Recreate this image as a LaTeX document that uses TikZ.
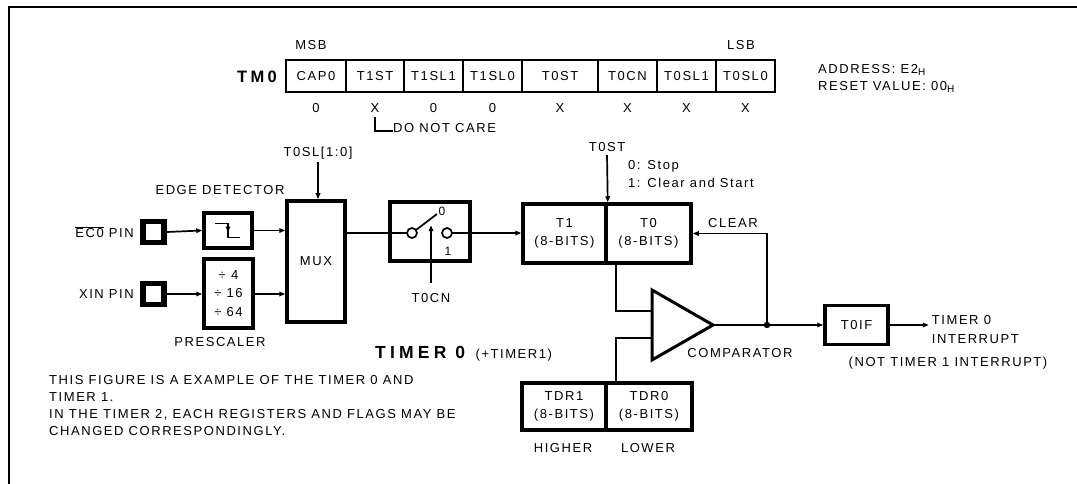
\documentclass[tikz,border=0pt]{standalone}
\usepackage{fontspec}
\setmainfont{Liberation Sans}[LetterSpace=12]
\usetikzlibrary{arrows.meta}

\newcommand{\lblfont}{\fontsize{13}{17}\selectfont}
\newcommand{\smlfont}{\fontsize{12}{14}\selectfont}
\newcommand{\bigfont}{\fontsize{16.5}{18}\selectfont\bfseries\addfontfeatures{LetterSpace=20}}
\newcommand{\hugefont}{\fontsize{17.5}{20}\selectfont\bfseries\addfontfeatures{LetterSpace=24}}
\newcommand{\hsub}[1]{\raisebox{-2pt}{\fontsize{10}{10}\selectfont #1}}

\tikzset{
  box/.style={draw, line width=3.5pt, inner sep=0pt, align=center, font=\lblfont},
  cell/.style={draw, line width=2pt, inner sep=0pt, minimum height=32pt, font=\lblfont},
  pin/.style={draw, line width=5.5pt, minimum size=21pt, inner sep=0pt},
  lbl/.style={inner sep=0pt, font=\lblfont, align=left},
  wire/.style={line width=1.7pt},
  sig/.style={wire, -{Triangle[length=6pt,width=4.5pt]}},
}

\begin{document}
\begin{tikzpicture}[x=1pt,y=-1pt]
  \useasboundingbox (0,0) rectangle (1077,484);
  % frame
  \draw[line width=2pt] (9,484) -- (9,7) -- (1077,7);

  % register TM0
  \foreach \l/\r/\t [count=\i] in {286/346/CAP0,346/404/T1ST,404/463/T1SL1,463/522/T1SL0,
      522/598/T0ST,598/657/T0CN,657/716/T0SL1,716/775/T0SL0}
    \node[cell, minimum width=\r pt-\l pt] (c\i) at ({(\l+\r)/2},76) {\t};
  \foreach \v [count=\i] in {0,X,0,0,X,X,X,X}
    \path (c\i.south) ++(0,15) node[lbl] (b\i) {\v};
  \node[lbl] (msb) at (311,45) {MSB};
  \node[lbl] (lsb) at (741,45) {LSB};
  \node[lbl, font=\bigfont, anchor=east] (tm0) at (277,77) {TM0};
  \node[lbl, anchor=west] (addr) at (818,70) {ADDRESS: E2\hsub{H}};
  \node[lbl, anchor=west] (rst) at (818,87) {RESET VALUE: 00\hsub{H}};
  \node[lbl, anchor=west] (dnc) at (393,128) {DO NOT CARE};
  \draw[line width=1.5pt] ([yshift=-4pt]b2.south) |- ([yshift=-3pt]dnc.west);

  % inputs
  \node[pin] (ecpin) at (153.5,232) {};
  \node[pin] (xinpin) at (153.5,294) {};
  \node[lbl, anchor=east] (eclbl) at (134,232) {$\overline{\mbox{EC0}}$ PIN};
  \node[lbl, anchor=east] (xinlbl) at (134,294) {XIN PIN};

  % edge detector and prescaler
  \node[box, minimum width=48pt, minimum height=35pt] (edge) at (228,230.5) {};
  \draw[wire] ([shift={(-13,-7)}]edge.center) -- ++(13,0) -- ++(0,14) -- ++(12,0);
  \draw[sig] ([shift={(0,-7)}]edge.center) -- ++(0,9);
  \node[lbl] (edgelbl) at (220,190) {EDGE DETECTOR};
  \node[box, minimum width=49pt, minimum height=69pt, font=\fontsize{13}{18.5}\selectfont] (presc) at (228.5,293.5) {÷ 4\\÷ 16\\÷ 64};
  \node[lbl] (presclbl) at (220,342) {PRESCALER};
  \draw[sig] (ecpin.east) -- (edge.west);
  \draw[sig] (xinpin.east) -- (xinpin.east -| presc.west);

  % mux
  \node[box, minimum width=58pt, minimum height=121pt] (mux) at (316,261.5) {MUX};
  \node[lbl] (sellbl) at (318,153) {T0SL[1:0]};
  \draw[sig] (sellbl.south) ++(0,3) -- (sellbl.south |- mux.north);
  \draw[sig] (edge.east) -- (edge.east -| mux.west);
  \draw[sig] (xinpin.east -| presc.east) -- (xinpin.east -| mux.west);

  % switch
  \node[box, minimum width=80pt, minimum height=59pt] (sw) at (430,231.5) {};
  \coordinate (swa) at (412,233);
  \coordinate (swb) at (447,233);
  \draw[wire] (swa) circle[radius=5pt] (swb) circle[radius=5pt];
  \draw[wire] ([shift={(4,-3)}]swa) -- (437,214);
  \node[lbl, font=\smlfont] (sw0) at (442,211) {0};
  \node[lbl, font=\smlfont] (sw1) at (448,251) {1};
  \draw[wire] (mux.east |- swa) -- ([xshift=-5pt]swa);
  \node[lbl] (cnlbl) at (431,298) {T0CN};
  \draw[sig] ([yshift=10pt]cnlbl.north) -- ++(0,-58);

  % timer counter
  \node[box, minimum width=83pt, minimum height=59pt, font=\fontsize{13}{18}\selectfont] (t1) at (564.5,233.5) {T1\\(8-BITS)};
  \node[box, minimum width=85pt, minimum height=59pt, font=\fontsize{13}{18}\selectfont] (t0) at (648.5,233.5) {T0\\(8-BITS)};
  \draw[sig] ([xshift=5pt]swb) -- (swb -| t1.west);
  \node[lbl] (stlbl) at (607,147) {T0ST};
  \draw[sig] (stlbl.south) ++(0,3) -- (t1.north east);
  \node[lbl, anchor=west] (mode0) at (628,166) {0: Stop};
  \node[lbl, anchor=west] (mode1) at (628,183) {1: Clear and Start};
  \node[lbl] (clr) at (733,223) {CLEAR};

  % comparator
  \draw[line width=3pt] (652,290) -- (713,325) -- (652,360) -- cycle;
  \coordinate (cmpin1) at (652,311);
  \coordinate (cmpin2) at (652,338);
  \coordinate (cmpout) at (713,325);
  \coordinate (jn) at (767,325);
  \node[lbl] (cmplbl) at (740,353) {COMPARATOR};
  \node[box, minimum width=84pt, minimum height=47pt, font=\fontsize{13}{18}\selectfont] (tdr1) at (564,406.5) {TDR1\\(8-BITS)};
  \node[box, minimum width=86pt, minimum height=47pt, font=\fontsize{13}{18}\selectfont] (tdr0) at (649,406.5) {TDR0\\(8-BITS)};
  \node[lbl] (hilbl) at (563,448) {HIGHER};
  \node[lbl] (lolbl) at (648,448) {LOWER};
  \draw[wire] ([xshift=12pt]t0.south west) |- (cmpin1);
  \draw[wire] ([xshift=12pt]tdr0.north west) |- (cmpin2);

  % interrupt flag
  \node[box, minimum width=63pt, minimum height=39pt] (t0if) at (856.5,325) {T0IF};
  \draw[wire] (cmpout) -- (jn);
  \fill (jn) circle[radius=3.2pt];
  \draw[sig] (jn) -- (t0if.west);
  \draw[sig] (jn) |- (t0.east);
  \draw[sig] (t0if.east) -- ++(39,0) coordinate (intr);
  \node[lbl, anchor=west] (irq0) at ([xshift=3pt]intr |- 0,320) {TIMER 0};
  \node[lbl, anchor=west] (irq1) at ([xshift=3pt]intr |- 0,339) {INTERRUPT};
  \node[lbl] (notlbl) at (948,363) {(NOT TIMER 1 INTERRUPT)};

  % titles and notes
  \node[lbl, font=\hugefont, anchor=west] (title) at (375,352) {TIMER 0};
  \node[lbl, anchor=base west] (title1) at ([xshift=10pt]title.base east) {(+TIMER1)};
  \node[lbl, anchor=west, font=\fontsize{13}{16.7}\selectfont] (note) at (49,405.5)
    {THIS FIGURE IS A EXAMPLE OF THE TIMER 0 AND\\TIMER 1.\\IN THE TIMER 2, EACH REGISTERS AND FLAGS MAY BE\\CHANGED CORRESPONDINGLY.};
\end{tikzpicture}
\end{document}
